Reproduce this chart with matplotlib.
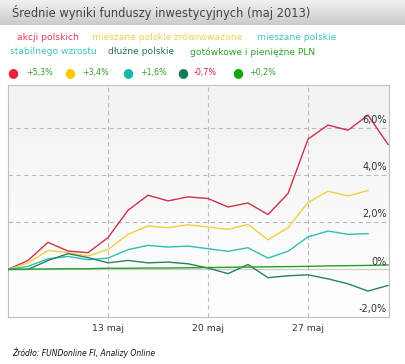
import numpy as np
import matplotlib
matplotlib.use('Agg')
import matplotlib.pyplot as plt

# trading days of May 2013 (index 0 = base)
days = [6, 7, 8, 9, 10, 13, 14, 15, 16, 17, 20, 21, 22, 23, 24, 27, 28, 29, 30, 31]
tick_days = [13, 20, 27]
tick_labels = ['13 maj', '20 maj', '27 maj']

akcje = [0, 0.38, 1.15, 0.78, 0.71, 1.35, 2.51, 3.15, 2.91, 3.08, 3.01, 2.65, 2.82, 2.33,
         3.22, 5.53, 6.13, 5.91, 6.55, 5.31]
zrown = [0, 0.27, 0.81, 0.71, 0.57, 0.84, 1.49, 1.84, 1.77, 1.90, 1.80, 1.70, 1.91, 1.26,
         1.77, 2.84, 3.32, 3.12, 3.35]
stab = [0, 0.13, 0.45, 0.55, 0.41, 0.48, 0.84, 1.02, 0.95, 0.99, 0.88, 0.77, 0.92, 0.48,
        0.77, 1.38, 1.63, 1.49, 1.52]
dluzne = [0, 0.0, 0.38, 0.67, 0.50, 0.28, 0.38, 0.28, 0.31, 0.24, 0.06, -0.18, 0.21, -0.35,
          -0.27, -0.23, -0.40, -0.61, -0.92, -0.68]
gotowk = [0, 0.01, 0.02, 0.03, 0.03, 0.05, 0.05, 0.06, 0.06, 0.07, 0.08, 0.09, 0.10, 0.11,
          0.12, 0.13, 0.15, 0.16, 0.17, 0.19]

names = ['akcji polskich', 'mieszane polskie zrównoważone', 'mieszane polskie',
         'stabilnego wzrostu', 'dłużne polskie', 'gotówkowe i pieniężne PLN']
results = ['+5,3%', '+3,4%', '+1,6%', '-0,7%', '+0,2%']
line_colors = ['#d0304a', '#f0d040', '#30bfb0', '#2a8060', '#22a022']
dot_colors = ['#e8203c', '#f8c800', '#18b8a8', '#1a7a58', '#10a810']
text_colors = ['#e03a55', '#f0d050', '#40c0c0', '#40c0c0', '#2a7058', '#30a030']

fig = plt.figure(figsize=(4.06, 3.64), dpi=100)
W, H = 406, 364

def fx(px):
    return px / W

def fy(py):
    return 1 - py / H

# title bar
bar = fig.add_axes([0, fy(25), 1, 25 / H])
grad = np.linspace(0, 1, 50).reshape(-1, 1)
bar.imshow(grad, aspect='auto', cmap=matplotlib.colors.LinearSegmentedColormap.from_list(
    'g', ['#f0f0f0', '#cbcbcb']), extent=[0, 1, 0, 1])
bar.axis('off')
fig.text(fx(12), fy(13), 'Średnie wyniki funduszy inwestycyjnych (maj 2013)',
         fontsize=8.3, color='#444444', va='center', ha='left')

# legend texts
leg_pos = [(17, 37), (92, 37), (257, 37), (10, 52), (108, 52), (190, 52)]
for i, (x, y) in enumerate(leg_pos):
    fig.text(fx(x), fy(y), names[i], fontsize=6.6, color=text_colors[i], va='center')

# result dots
dot_x = [12.5, 70, 127.5, 182.5, 237.5]
res_x = [26, 82, 140, 194, 249]
for i in range(len(results)):
    fig.text(fx(dot_x[i]), fy(73), '\u25cf', fontsize=9, color=dot_colors[i], va='center', ha='center')
    col = '#d02040' if results[i].startswith('-') else '#30a030'
    fig.text(fx(res_x[i]), fy(73), results[i], fontsize=5.8, color=col, va='center')

# main plot
ax = fig.add_axes([fx(8), fy(317), fx(381), (317 - 85) / H])
ymin, ymax = -2.02, 7.83
ax.imshow(np.linspace(0, 1, 50).reshape(-1, 1), aspect='auto',
          cmap=matplotlib.colors.LinearSegmentedColormap.from_list('b', ['#f2f2f2', '#ffffff']),
          extent=[0, 19.05, ymin, ymax], zorder=0)
ax.set_xlim(0, 19.05)
ax.set_ylim(ymin, ymax)

for v in [2, 4, 6]:
    ax.axhline(v, color='#bbbbbb', lw=0.8, ls=(0, (4, 3)), zorder=1)
ax.axhline(0, color='#cccccc', lw=0.9, zorder=1)
tick_idx = [days.index(d) for d in tick_days]
for t in tick_idx:
    ax.axvline(t, color='#bbbbbb', lw=0.8, ls=(0, (4, 3)), zorder=1)

series = [akcje, zrown, stab, dluzne, gotowk]
for s, c in zip(series, line_colors):
    ax.plot(range(len(s)), s, color=c, lw=1.0, zorder=3)

for v, lab in [(6, '6,0%'), (4, '4,0%'), (2, '2,0%'), (0, '0%'), (-2, '-2,0%')]:
    ax.text(18.95, v + 0.12, lab, fontsize=7, color='#333333', ha='right', va='bottom', zorder=4)

ax.set_xticks(tick_idx)
ax.set_xticklabels(tick_labels, fontsize=6.7, color='#333333')
ax.tick_params(axis='x', length=0, pad=5)
ax.set_yticks([])
for sp in ax.spines.values():
    sp.set_color('#c0c0c0')
    sp.set_linewidth(0.8)

fig.text(fx(12), fy(353), 'Źródło: FUNDonline FI, Analizy Online', fontsize=5.5,
         style='italic', color='#111111', va='center')

fig.savefig('out.png', dpi=100)
